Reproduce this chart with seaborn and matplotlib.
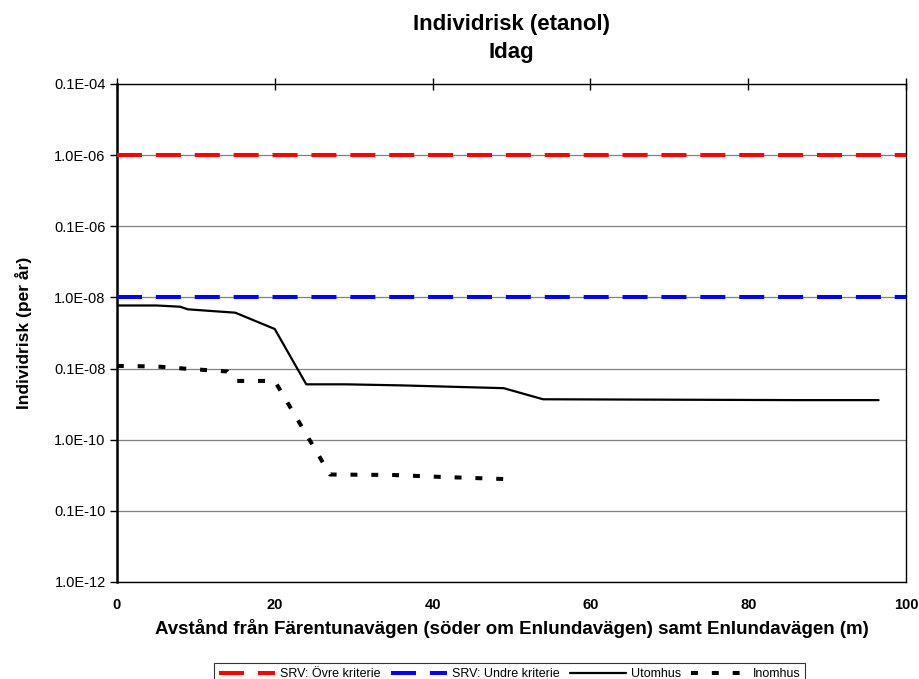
import matplotlib
matplotlib.use("Agg")
import matplotlib.pyplot as plt
import seaborn as sns
import numpy as np

# ---- data ----
limit_x = [0, 100]
ovre_y = [1e-6, 1e-6]
undre_y = [1e-8, 1e-8]

ute_x = [0, 5, 8, 9, 15, 20, 24, 29, 36, 49, 54, 86, 96.5]
ute_y = [7.7e-9, 7.7e-9, 7.4e-9, 6.8e-9, 6.1e-9, 3.6e-9, 6.0e-10, 6.0e-10,
         5.8e-10, 5.3e-10, 3.7e-10, 3.6e-10, 3.6e-10]

inne_x = [0, 5, 9, 14, 15, 20, 27, 35, 41, 49]
inne_y = [1.09e-9, 1.07e-9, 9.9e-10, 9.1e-10, 6.7e-10, 6.7e-10, 3.24e-11,
          3.19e-11, 3.0e-11, 2.8e-11]

ytick_vals = [1e-12, 1e-11, 1e-10, 1e-9, 1e-8, 1e-7, 1e-6, 1e-5]
ytick_labels = ["1.0E-12", "0.1E-10", "1.0E-10", "0.1E-08", "1.0E-08",
                "0.1E-06", "1.0E-06", "0.1E-04"]
xtick_vals = [0, 20, 40, 60, 80, 100]

title = "Individrisk (etanol)\nIdag"
xlabel = "Avstånd från Färentunavägen (söder om Enlundavägen) samt Enlundavägen (m)"
ylabel = "Individrisk (per år)"
names = ["SRV: Övre kriterie", "SRV: Undre kriterie", "Utomhus", "Inomhus"]

# ---- style ----
sns.set_style("white")
plt.rcParams['font.family'] = ['Liberation Sans', 'DejaVu Sans']
plt.rcParams['lines.scale_dashes'] = False
for k in ["text.color", "axes.labelcolor", "xtick.color", "ytick.color"]:
    plt.rcParams[k] = "black"

fig = plt.figure(figsize=(9.2, 6.79), dpi=100)
ax = fig.add_axes([0.127, 0.1429, 0.858, 0.7334])

ax.set_yscale("log")
ax.set_ylim(1e-12, 1e-5)
ax.set_xlim(0, 100)

for v in ytick_vals:
    ax.axhline(v, color="#808080", lw=0.9, zorder=0)

sns.lineplot(x=limit_x, y=ovre_y, ax=ax, color="#ff0000", lw=2.9,
             label=names[0], zorder=3).lines[-1].set_dashes((18, 10))
sns.lineplot(x=limit_x, y=undre_y, ax=ax, color="#0000ff", lw=2.9,
             label=names[1], zorder=3).lines[-1].set_dashes((18, 10))
sns.lineplot(x=ute_x, y=ute_y, ax=ax, color="black", lw=1.6,
             label=names[2], zorder=3)
sns.lineplot(x=inne_x, y=inne_y, ax=ax, color="black", lw=2.9,
             label=names[3], zorder=3).lines[-1].set_dashes((5, 10))

ax.set_yticks(ytick_vals)
ax.set_yticklabels(ytick_labels, fontsize=10.5)
ax.minorticks_off()
ax.set_xticks(xtick_vals)
ax.set_xticklabels([str(v) for v in xtick_vals], fontsize=10.5, fontweight="bold")
ax.tick_params(axis="y", direction="out", length=5, width=1, color="black", left=True, pad=3)
ax.tick_params(axis="x", bottom=False, top=True, direction="inout", length=9,
               width=1, color="black", labelbottom=True, labeltop=False, pad=7)

for s in ax.spines.values():
    s.set_color("black")
    s.set_linewidth(1.0)
    s.set_visible(True)
ax.spines["left"].set_linewidth(1.8)

ax.set_xlabel(xlabel, fontsize=13.5, fontweight="bold", labelpad=5)
ax.set_ylabel(ylabel, fontsize=12.5, fontweight="bold", labelpad=16)
ax.set_title(title, fontsize=16, fontweight="bold", pad=19, linespacing=1.4)

leg = ax.legend(loc="upper center", bbox_to_anchor=(0.554, 0.0324),
                bbox_transform=fig.transFigure, ncol=4, fontsize=9,
                frameon=True, fancybox=False, edgecolor="black",
                handlelength=4.5, handletextpad=0.4, columnspacing=0.8,
                borderpad=0.4)
leg.get_frame().set_linewidth(0.8)

fig.savefig("out.png", dpi=100)
